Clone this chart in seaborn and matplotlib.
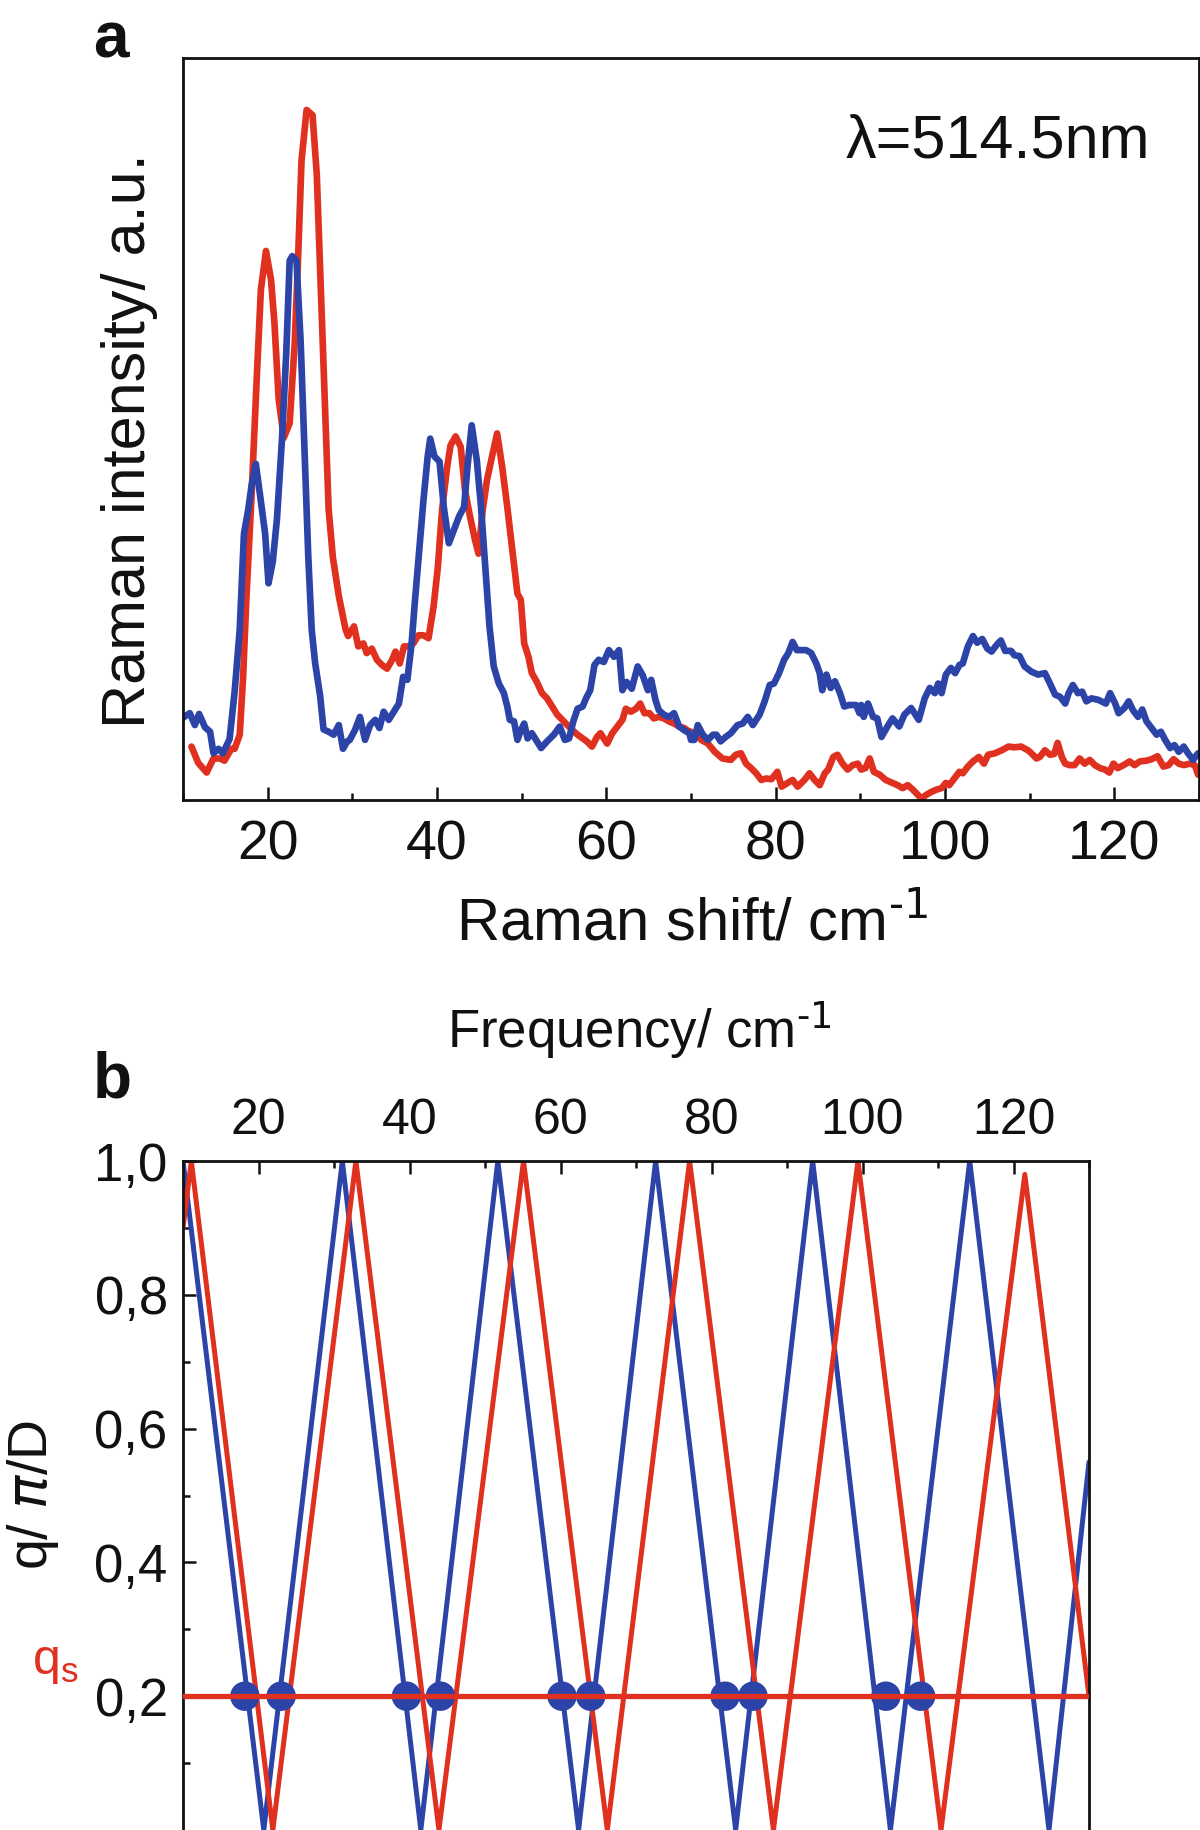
import matplotlib
matplotlib.use("Agg")
import matplotlib.pyplot as plt
import seaborn as sns
import numpy as np
from matplotlib.ticker import MultipleLocator, FuncFormatter

# ---- panel a: Raman spectra (intensity in a.u., 0 = bottom of frame) ----
red_x = [11.0, 11.8, 12.8, 13.6, 14.35, 14.9, 15.7, 16.1, 16.7, 17.1, 17.5, 18.1, 18.7, 19.2, 19.8,
         20.4, 20.8, 21.3, 21.9, 22.6, 23.2, 23.6, 24.0, 24.6, 25.3, 25.8, 26.2, 26.7, 27.2, 27.7,
         28.4, 29.2, 29.5,
         29.7, 30.2, 30.7, 31.3, 31.7, 32.3, 32.9, 33.5, 34.1, 34.7, 35.1, 35.6, 36.1, 36.6, 37.2,
         37.8, 38.4, 39.0, 39.6, 40.1, 40.6, 41.2, 41.6, 42.2, 42.8, 43.3, 43.9, 44.5, 44.9, 45.4,
         45.9, 46.5, 47.1, 47.7, 48.3, 48.9, 49.5,
         49.9, 50.3, 50.8, 51.2, 51.8, 52.4, 53.0, 53.6, 54.2, 54.8, 55.4, 56.0, 56.6, 57.2, 57.7,
         58.3, 58.9, 59.3, 60.1, 60.7, 61.3, 61.9, 62.3, 62.9, 63.5, 64.0, 64.5, 65.1, 65.6, 66.2,
         66.8, 67.4, 68.0, 68.6, 69.2, 69.8,
         70.0, 70.8, 71.2, 72.0, 72.8, 73.7, 74.7, 75.3, 75.9, 76.5, 77.1, 77.7, 78.3, 78.9, 79.5,
         80.2, 80.7, 81.4, 82.0, 82.6, 83.4, 84.0, 84.6, 85.2, 85.8, 86.2, 86.8, 87.3, 87.9, 88.5,
         89.1, 89.7,
         90.1, 90.6, 91.1, 91.6, 92.3, 93.0, 93.8, 94.4, 95.0, 95.6, 96.2, 96.8, 97.2, 97.8, 98.4,
         99.0, 99.6, 100.1, 100.5, 101.1, 101.7, 102.1, 102.7, 103.3, 104.0, 104.6, 105.1, 105.9,
         106.7, 107.5, 108.2, 109.0, 109.8,
         110.2, 110.8, 111.2, 111.8, 112.4, 112.9, 113.3, 113.8, 114.2, 114.7, 115.3, 115.9, 116.5,
         117.1, 117.7, 118.3, 118.9, 119.4, 119.9, 120.4, 121.1, 121.8, 122.4, 123.0, 123.8, 124.4,
         125.1, 125.8, 126.4, 127.0, 127.6, 128.2, 128.9, 129.5, 129.9]
red_i = [7.2, 5.0, 3.7, 5.6, 5.6, 5.3, 6.9, 6.9, 8.8, 16.6, 27.5, 41.1, 56.6, 68.8, 74.0,
         70.1, 64.3, 54.0, 48.8, 50.8, 61.7, 73.3, 86.2, 93.0, 92.3, 84.3, 71.4, 55.3, 39.2, 32.7,
         27.5, 23.0, 22.1,
         22.5, 23.4, 20.7, 21.1, 19.8, 20.4, 18.9, 18.2, 17.7, 18.9, 20.0, 18.4, 20.7, 20.7, 21.1,
         22.2, 22.2, 21.8, 26.1, 31.4, 39.1, 44.9, 47.8, 49.0, 47.6, 41.8, 38.2, 35.0, 33.2, 39.1,
         43.1, 46.3, 49.4, 44.9, 39.5, 33.7, 27.8,
         27.0, 21.1, 19.3, 17.1, 15.9, 14.4, 13.7, 12.6, 11.5, 10.8, 10.1, 9.4, 8.8, 8.3, 7.9,
         7.2, 8.5, 9.0, 7.6, 9.0, 9.9, 10.8, 12.3, 11.9, 12.3, 13.0, 11.7, 11.7, 11.0, 11.2,
         11.0, 10.6, 10.3, 9.9, 9.7, 9.2,
         9.2, 8.8, 8.1, 7.6, 6.5, 5.6, 5.4, 6.1, 6.3, 4.9, 4.3, 3.6, 2.7, 2.9, 2.8,
         3.8, 1.8, 2.3, 2.7, 1.8, 2.7, 3.6, 2.7, 2.0, 3.6, 4.1, 5.8, 6.1, 4.9, 4.1,
         4.7, 4.9,
         4.1, 4.3, 5.6, 3.8, 3.4, 2.7, 2.3, 2.0, 1.6, 2.0, 1.4, 0.7, 0.2, 0.7, 1.1,
         1.4, 1.6, 2.3, 2.0, 2.9, 3.8, 3.6, 4.5, 5.2, 5.8, 4.9, 6.1, 6.3,
         6.7, 7.2, 7.1, 7.2, 6.7,
         6.3, 5.6, 5.8, 6.7, 6.1, 6.2, 7.7, 5.8, 4.9, 4.7, 4.7, 5.6, 4.9,
         5.4, 4.7, 4.3, 4.1, 3.7, 4.9, 4.3, 4.7, 5.2, 4.7, 5.2, 5.3, 5.5,
         5.9, 4.5, 4.7, 5.5, 4.9, 4.7, 4.9, 4.7, 3.4]

blue_x = [10.0, 10.8, 11.4, 11.9, 12.6, 13.2, 13.6, 14.2, 14.7, 15.5, 16.1, 16.7, 17.2, 17.7, 18.1,
          18.6, 19.1, 19.7, 20.1, 20.6, 21.1, 21.7, 22.2, 22.6, 22.9, 23.4, 23.9, 24.3, 24.8, 25.2,
          25.6, 26.2, 26.6, 27.2, 27.8, 28.4, 28.9, 29.4,
          29.7, 30.3, 30.9, 31.5, 32.1, 32.7, 33.2, 33.7, 34.3, 34.9, 35.5, 36.0, 36.5, 37.0, 37.4,
          37.9, 38.4, 38.9, 39.2, 39.7, 40.3, 40.8, 41.4, 42.0, 42.6, 43.2, 43.6, 44.1, 44.7, 45.2,
          45.7, 46.2, 46.7, 47.3, 47.9, 48.3, 48.6, 49.1, 49.5,
          49.9, 50.3, 50.7, 51.2, 51.8, 52.3, 53.0, 53.8, 54.5, 55.1, 55.6, 56.1, 56.6, 57.2, 57.6,
          58.1, 58.6, 59.1, 59.7, 60.3, 60.9, 61.5, 61.9, 62.4, 63.0, 63.7, 64.3, 64.9, 65.3, 65.8,
          66.2, 66.8, 67.4, 68.0, 68.6, 69.2, 69.8,
          70.0, 70.4, 70.8, 71.4, 72.0, 72.6, 73.0, 73.5, 74.1, 74.7, 75.5, 76.1, 76.7, 77.3, 78.1,
          78.7, 79.3, 79.8, 80.4, 81.0, 81.5, 82.0, 82.5, 83.0, 83.6, 84.2, 84.8, 85.2, 85.5, 86.0,
          86.5, 87.0, 87.6, 88.1, 88.7, 89.5, 89.9,
          90.1, 90.4, 90.9, 91.5, 92.0, 92.5, 93.2, 93.8, 94.6, 95.2, 96.0, 96.9, 97.6, 98.2, 98.8,
          99.2, 99.6, 100.1, 100.7, 101.2, 101.7, 102.1, 102.7, 103.3, 103.8, 104.4, 105.0, 105.5,
          106.1, 106.6, 107.1, 107.8, 108.2, 108.8, 109.4,
          110.2, 111.0, 111.8, 112.4, 113.0, 113.6, 114.2, 114.6, 115.1, 115.7, 116.2, 116.7, 117.3,
          118.1, 119.0, 119.5, 120.1, 120.5, 121.2, 121.7, 122.2, 122.8, 123.3, 123.8, 124.4, 125.0,
          125.5, 126.0, 126.6, 127.1, 127.6, 128.2, 128.7, 129.3, 129.9]
blue_i = [11.1, 11.7, 10.1, 11.6, 9.8, 9.2, 6.3, 6.9, 6.3, 8.2, 14.6, 23.0, 35.9, 39.1, 42.4,
          45.3, 41.1, 35.9, 29.2, 32.1, 37.9, 48.8, 60.4, 72.7, 73.3, 72.7, 61.7, 48.8, 32.7, 23.0,
          18.5, 14.0, 9.5, 9.2, 8.8, 10.1, 6.9, 7.9,
          8.1, 9.4, 11.2, 8.1, 10.1, 10.8, 9.7, 11.9, 10.8, 11.9, 13.0, 16.6, 16.2, 21.1, 26.9,
          33.7, 40.4, 46.3, 48.7, 46.3, 45.6, 39.5, 34.6, 36.4, 38.2, 39.5, 44.9, 50.5, 45.8, 39.5,
          31.4, 23.4, 18.0, 15.7, 14.4, 12.6, 10.8, 10.6, 8.1,
          9.4, 10.3, 8.3, 9.0, 7.9, 7.0, 7.9, 8.8, 9.9, 8.1, 8.3, 10.6, 12.3, 12.6, 13.7,
          14.8, 18.2, 18.9, 18.6, 20.2, 19.3, 20.2, 14.8, 15.9, 15.0, 18.0, 16.8, 14.8, 16.2, 13.5,
          12.1, 11.5, 11.2, 11.7, 9.9, 9.4, 9.0,
          8.1, 8.1, 10.1, 8.8, 8.1, 8.8, 8.8, 7.9, 8.5, 9.0, 10.1, 10.3, 11.2, 10.1, 11.5,
          13.3, 15.5, 15.7, 17.1, 18.9, 19.8, 21.3, 20.2, 20.2, 20.2, 19.8, 18.4, 17.1, 14.8, 16.9,
          15.1, 16.0, 14.4, 12.6, 12.8, 12.8, 11.7,
          12.8, 11.2, 13.0, 11.2, 11.0, 8.5, 9.9, 11.0, 9.9, 11.5, 12.4, 10.8, 13.7, 15.1, 14.4,
          15.7, 14.4, 16.9, 17.8, 17.1, 18.2, 18.4, 20.7, 22.1, 21.2, 21.7, 20.4, 20.0,
          20.9, 21.5, 20.1, 20.1, 19.5, 19.4, 18.0,
          17.3, 16.9, 17.1, 15.7, 14.2, 13.9, 13.0, 14.4, 15.5, 14.4, 14.6, 13.3, 13.7,
          13.5, 13.0, 14.4, 13.0, 11.7, 12.4, 13.3, 12.1, 11.2, 12.2, 10.6, 9.7, 8.8,
          9.2, 8.1, 7.0, 7.4, 6.5, 7.2, 6.3, 5.4, 6.3]

# ---- panel b: q / (pi/D) versus frequency (zig-zag vertices) ----
blue_fx = [10.0, 20.7, 31.1, 41.5, 51.7, 62.4, 72.6, 83.2, 93.4, 103.7, 114.2, 124.7, 130.0]
blue_q = [1.0, 0.0, 1.0, 0.0, 1.0, 0.0, 1.0, 0.0, 1.0, 0.0, 1.0, 0.0, 0.55]
red_fx = [10.0, 11.1, 21.9, 32.9, 43.9, 55.1, 66.2, 77.1, 88.2, 99.4, 110.4, 121.5, 130.0]
red_q = [0.9, 1.0, 0.0, 1.0, 0.0, 1.0, 0.0, 1.0, 0.0, 1.0, 0.0, 0.98, 0.2]
q_s = 0.2
dot_x = [18.2, 23.0, 39.6, 44.1, 60.2, 64.0, 81.8, 85.5, 103.1, 107.7]

x_ticks = [20, 40, 60, 80, 100, 120]
q_ticks = [0.2, 0.4, 0.6, 0.8, 1.0]

RED = "#e0301f"
BLUE = "#2c44a8"
INK = "#111111"

sns.set_theme(style="white")
plt.rcParams["font.family"] = ["Liberation Sans", "DejaVu Sans"]
plt.rcParams["mathtext.default"] = "regular"
plt.rcParams["axes.linewidth"] = 2.0
plt.rcParams["axes.edgecolor"] = INK
plt.rcParams["text.color"] = INK
plt.rcParams["axes.labelcolor"] = INK
plt.rcParams["xtick.color"] = INK
plt.rcParams["ytick.color"] = INK

fig = plt.figure(figsize=(12, 18.3), dpi=100)
W, H = 1200.0, 1830.0

# panel a
ax1 = fig.add_axes([183 / W, 1 - 800 / H, 1016 / W, 742 / H])
sns.lineplot(x=red_x, y=red_i, ax=ax1, color=RED, linewidth=4.8, sort=False, estimator=None)
sns.lineplot(x=blue_x, y=blue_i, ax=ax1, color=BLUE, linewidth=4.8, sort=False, estimator=None)
ax1.set_xlim(10, 130)
ax1.set_ylim(0, 100)
ax1.set_xticks(x_ticks)
ax1.xaxis.set_minor_locator(MultipleLocator(10))
ax1.tick_params(axis="x", which="both", direction="in", bottom=True, top=False,
                labelsize=40, pad=14, width=1.8)
ax1.tick_params(axis="x", which="major", length=9.5)
ax1.tick_params(axis="x", which="minor", length=5)
ax1.tick_params(axis="y", left=False, labelleft=False)
ax1.set_xlabel("Raman shift/ cm$^{\\text{-1}}$", fontsize=43)
ax1.xaxis.set_label_coords(0.501, -0.19)
ax1.xaxis.label.set_va("baseline")
ax1.set_ylabel("Raman intensity/ a.u.", fontsize=44)
ax1.yaxis.set_label_coords(-0.025, 0.485)
ax1.text(0.952, 0.866, "λ=514.5nm", transform=ax1.transAxes, ha="right",
         va="baseline", fontsize=44)

# panel b
ax2 = fig.add_axes([183 / W, 0.0, 906 / W, 669 / H])
sns.lineplot(x=blue_fx, y=blue_q, ax=ax2, color=BLUE, linewidth=3.6, sort=False, estimator=None)
sns.lineplot(x=red_fx, y=red_q, ax=ax2, color=RED, linewidth=3.6, sort=False, estimator=None)
sns.scatterplot(x=dot_x, y=[q_s] * len(dot_x), ax=ax2, color=BLUE, s=450,
                edgecolor="none", zorder=3)
ax2.axhline(q_s, color=RED, linewidth=3.8, zorder=4)
ax2.set_xlim(10, 130)
ax2.set_ylim(0, 1.0)
ax2.spines["bottom"].set_visible(False)
ax2.set_xticks(x_ticks)
ax2.xaxis.set_minor_locator(MultipleLocator(10))
ax2.set_yticks(q_ticks)
ax2.set_yticks([0.1, 0.3, 0.5, 0.7, 0.9], minor=True)
ax2.yaxis.set_major_formatter(FuncFormatter(lambda v, _: f"{v:.1f}".replace(".", ",")))
ax2.tick_params(axis="x", which="both", direction="in", top=True, bottom=False,
                labeltop=True, labelbottom=False, labelsize=36, pad=12, width=1.8)
ax2.tick_params(axis="y", which="both", direction="in", left=True, right=False,
                labelsize=38, pad=11, width=1.8)
ax2.tick_params(which="major", length=9.5)
ax2.tick_params(which="minor", length=5)
ax2.xaxis.set_label_position("top")
ax2.set_xlabel("Frequency/ cm$^{\\text{-1}}$", fontsize=38)
ax2.xaxis.set_label_coords(0.504, 1.169)
ax2.xaxis.label.set_va("baseline")
ax2.set_ylabel("q/ $\\mathit{\\pi}$/D", fontsize=40)
ax2.yaxis.set_label_coords(-0.135, 0.5)

fig.text(32 / W, 1 - 1674 / H, "q$_s$", color=RED, fontsize=36, ha="left", va="baseline")
fig.text(93 / W, 1 - 58 / H, "a", fontsize=46, fontweight="bold", va="baseline")
fig.text(93 / W, 1 - 1097 / H, "b", fontsize=46, fontweight="bold", va="baseline")

fig.savefig("out.png", dpi=100)
